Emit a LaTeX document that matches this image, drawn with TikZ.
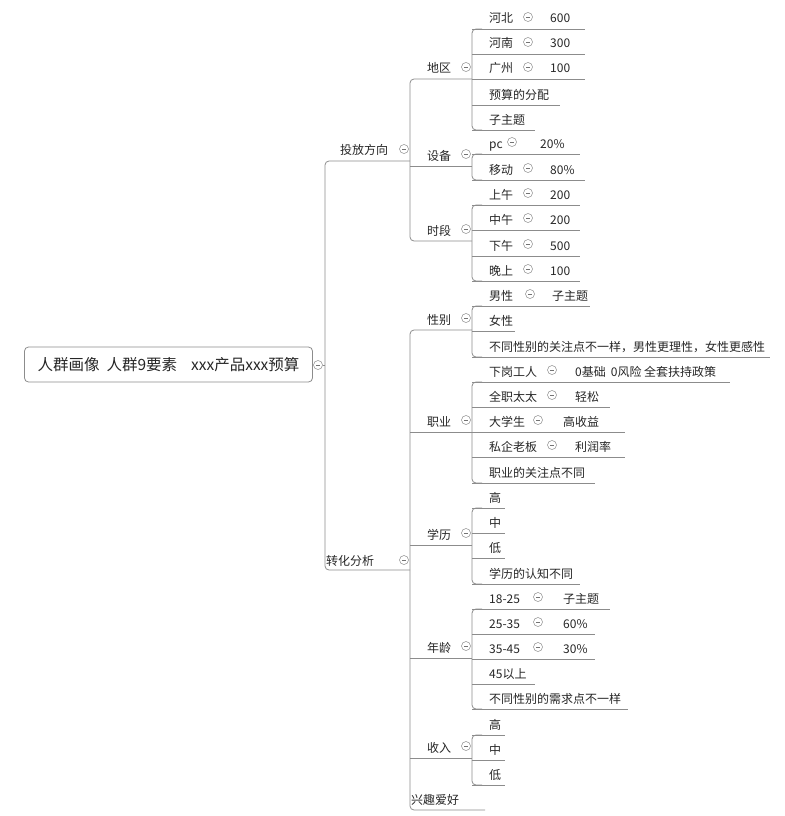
\documentclass[tikz,border=0pt]{standalone}
\usepackage{fontspec}
\setmainfont{Noto Sans CJK SC}
\tikzset{
  lbl/.style={anchor=base west, inner sep=0pt, font=\fontsize{12}{14}\selectfont, text=black!85},
  link/.style={draw=black!45, line width=0.8pt, rounded corners=4pt},
  fold/.style={circle, draw=black!45, line width=0.5pt, minimum size=9pt, inner sep=0pt, fill=white,
    path picture={\draw[black!55, line width=0.5pt] ([xshift=-2.2pt]path picture bounding box.center) -- ([xshift=2.2pt]path picture bounding box.center);}},
}
\begin{document}
\begin{tikzpicture}[x=1pt,y=-1pt]
  \useasboundingbox (0,0) rectangle (784,816);
  % root
  \node[draw=black!45, line width=0.8pt, rounded corners=4pt, minimum width=288pt, minimum height=35pt,
    font=\fontsize{15.5}{18}\selectfont, text=black!85] (root) at (168.5,364.5) {人群画像\hspace{7pt}人群9要素\hspace{14pt}xxx产品xxx预算};
  \node[fold] (rootc) at (318,365) {};
  \draw[link] (rootc.east) -- (325,365);
  \draw[link] (410,161) -- (325,161) -- (325,570) -- (410,570);
  % level 1
  \node[lbl] (tf) at (340,154) {投放方向};
  \node[fold] (tfc) at (404,149) {};
  \node[lbl] (zh) at (326,565) {转化分析};
  \node[fold] (zhc) at (404,560) {};
  \draw[link] (472,79) -- (410,79) -- (410,241) -- (472,241);
  \draw[link] (410,166) -- (472,166);
  \draw[link] (472,330) -- (410,330) -- (410,810) -- (485,810);
  \foreach \yy in {432,545,658,758} \draw[link] (410,\yy) -- (472,\yy);
  % level 2
  \foreach \nm/\tx/\yy in {dq/地区/79, sb/设备/166, sd/时段/241, xb/性别/330, zy/职业/432, xl/学历/545, nl/年龄/658, sr/收入/758} {
    \node[lbl] (\nm) at (427,\yy-6) {\tx};
    \node[fold] (\nm c) at (466,\yy-12) {};
  }
  \node[lbl] (xq) at (411,804) {兴趣爱好};
  % leaves with a value
  \foreach \nm/\yy/\tx/\cx/\vx/\val/\ex in {
    dq1/29/河北/528/550/600/585, dq2/54/河南/528/550/300/585, dq3/79/广州/528/550/100/585,
    sb1/154/pc/512/540/20\%/580, sb2/180/移动/528/550/80\%/585,
    sd1/205/上午/528/550/200/580, sd2/230/中午/528/550/200/580, sd3/256/下午/528/550/500/580, sd4/281/晚上/528/550/100/580,
    xb1/306/男性/530/552/子主题/590,
    zy1/382/下岗工人/552/575/0基础\hspace{5pt}0风险 全套扶持政策/730, zy2/407/全职太太/552/575/轻松/610,
    zy3/432/大学生/538/563/高收益/625, zy4/457/私企老板/552/575/利润率/625,
    nl1/609/18-25/538/563/子主题/610, nl2/634/25-35/538/563/60\%/595, nl3/659/35-45/538/563/30\%/595} {
    \node[lbl] (\nm) at (489,\yy-6) {\tx};
    \node[fold] (\nm c) at (\cx,\yy-12) {};
    \node[lbl] (\nm v) at (\vx,\yy-6) {\val};
    \coordinate (\nm e) at (\ex,\yy);
  }
  % plain leaves
  \foreach \nm/\yy/\tx/\ex in {
    dq4/105/预算的分配/560, dq5/130/子主题/535,
    xb2/331/女性/515, xb3/357/不同性别的关注点不一样，男性更理性，女性更感性/770,
    zy5/483/职业的关注点不同/595,
    xl1/508/高/505, xl2/533/中/505, xl3/558/低/505, xl4/584/学历的认知不同/580,
    nl4/684/45以上/535, nl5/709/不同性别的需求点不一样/628,
    sr1/735/高/505, sr2/760/中/505, sr3/785/低/505} {
    \node[lbl] (\nm) at (489,\yy-6) {\tx};
    \coordinate (\nm e) at (\ex,\yy);
  }
  % brackets
  \foreach \nm/\ys in {dq/{29,54,79,105,130}, sb/{154,180}, sd/{205,230,256,281},
    xb/{306,331,357}, zy/{382,407,432,457,483}, xl/{508,533,558,584},
    nl/{609,634,659,684,709}, sr/{735,760,785}} {
    \foreach \yy [count=\i] in \ys {
      \draw[link] (472,\yy) -- (\nm\i e);
      \ifnum\i=1 \xdef\ytop{\yy}\fi
      \xdef\ybot{\yy}
    }
    \draw[link] (482,\ytop) -- (472,\ytop) -- (472,\ybot) -- (482,\ybot);
  }
\end{tikzpicture}
\end{document}
